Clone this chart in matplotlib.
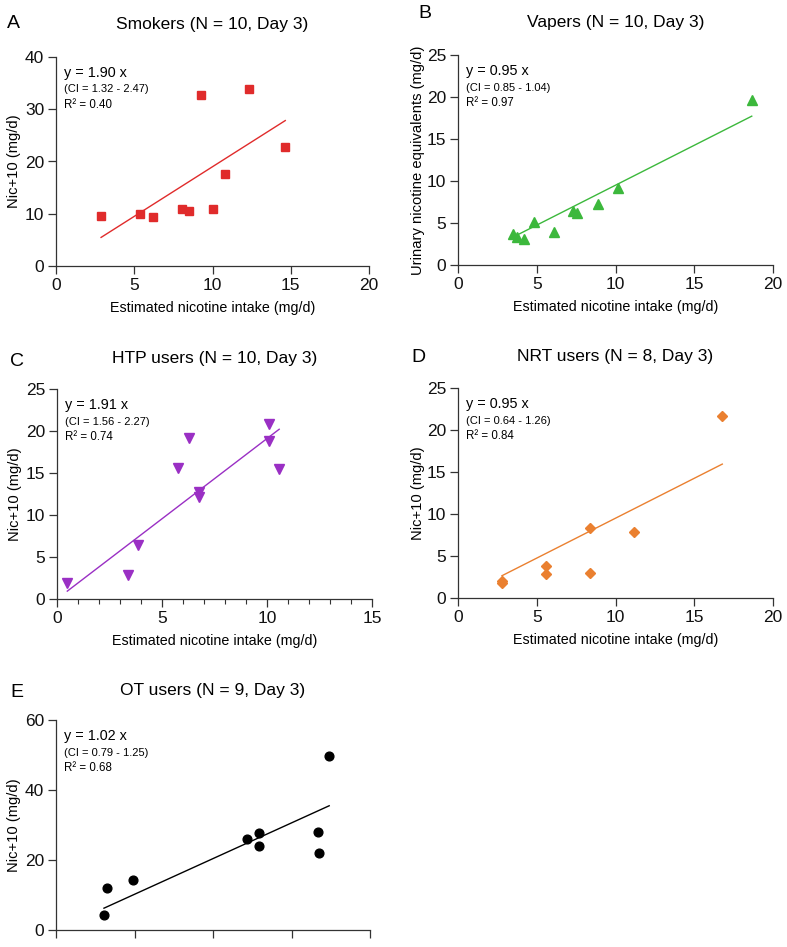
import numpy as np
import matplotlib
matplotlib.use("Agg")
import matplotlib.pyplot as plt

plt.rcParams['font.family'] = ['Liberation Sans', 'DejaVu Sans']

# panel A - smokers
smk_x = [2.88, 5.39, 6.18, 8.05, 8.5, 9.24, 10.03, 10.8, 12.31, 14.65]
smk_y = [9.5, 10.0, 9.45, 10.9, 10.5, 32.7, 11.0, 17.7, 33.8, 22.7]
# panel B - vapers
vap_x = [3.51, 3.75, 4.21, 4.80, 6.12, 7.28, 7.58, 8.91, 10.14, 18.65]
vap_y = [3.65, 3.29, 3.06, 5.08, 3.97, 6.47, 6.15, 7.30, 9.13, 19.64]
# panel C - HTP users
htp_x = [0.49, 3.37, 3.85, 5.78, 6.27, 6.76, 6.76, 10.1, 10.1, 10.58]
htp_y = [1.87, 2.86, 6.39, 15.56, 19.17, 12.7, 12.14, 20.87, 18.8, 15.48]
# panel D - NRT users
nrt_x = [2.79, 2.79, 5.57, 5.57, 8.38, 8.38, 11.17, 16.78]
nrt_y = [2.03, 1.79, 3.78, 2.83, 8.36, 2.99, 7.8, 21.66]
# panel E - OT users
ot_x = [6.11, 6.5, 9.81, 24.37, 25.9, 25.9, 33.33, 33.5, 34.8]
ot_y = [4.29, 12.0, 14.38, 25.9, 27.7, 24.0, 28.1, 22.1, 49.7]

slopes = [1.90, 0.95, 1.91, 0.95, 1.02]
ci_txt = ["(CI = 1.32 - 2.47)", "(CI = 0.85 - 1.04)", "(CI = 1.56 - 2.27)",
          "(CI = 0.64 - 1.26)", "(CI = 0.79 - 1.25)"]
r2 = ["0.40", "0.97", "0.74", "0.84", "0.68"]
titles = ["Smokers (N = 10, Day 3)", "Vapers (N = 10, Day 3)", "HTP users (N = 10, Day 3)",
          "NRT users (N = 8, Day 3)", "OT users (N = 9, Day 3)"]
letters = ["A", "B", "C", "D", "E"]
ylabels = ["Nic+10 (mg/d)", "Urinary nicotine equivalents (mg/d)", "Nic+10 (mg/d)",
           "Nic+10 (mg/d)", "Nic+10 (mg/d)"]
xlab = "Estimated nicotine intake (mg/d)"

W, H = 787, 947
fig = plt.figure(figsize=(W/100, H/100), dpi=100)

def px_axes(l, r, t, b):
    return fig.add_axes([l/W, 1-b/H, (r-l)/W, (b-t)/H])

# (left, right, top, bottom) in pixels
boxes = [(56, 369, 57, 266), (458, 773, 55, 265), (57, 372, 389, 599),
         (458, 773, 388, 598), (56, 370, 720, 930)]
xlims = [20, 20, 15, 20, 40]
ylims = [40, 25, 25, 25, 60]
xsteps = [5, 5, 5, 5, 10]
ysteps = [10, 5, 5, 5, 20]
data = [(smk_x, smk_y), (vap_x, vap_y), (htp_x, htp_y), (nrt_x, nrt_y), (ot_x, ot_y)]
markers = ['s', '^', 'v', 'D', 'o']
msizes = [6, 6.5, 6.5, 5, 6.3]
colors = ['#e02b2b', '#3cb83c', '#9a2fc4', '#ea8030', '#000000']
title_y = [25, 22, 358, 357, 690]
letter_xy = [(13, 24), (425, 14), (17, 362), (418, 358), (17, 692)]
ypads = [3, 1, 3, 1.5, 3]

for i in range(5):
    ax = px_axes(*boxes[i])
    x, y = data[i]
    ax.plot(x, y, linestyle='none', marker=markers[i], ms=msizes[i],
            color=colors[i], mec=colors[i], zorder=3)
    xl = np.array([min(x), max(x)])
    ax.plot(xl, slopes[i]*xl, color=colors[i], lw=1.0)
    ax.set_xlim(0, xlims[i])
    ax.set_ylim(0, ylims[i])
    ax.set_xticks(np.arange(0, xlims[i]+1, xsteps[i]))
    ax.set_yticks(np.arange(0, ylims[i]+1, ysteps[i]))
    if i == 2:
        ax.set_xticks(np.arange(0, 16, 1), minor=True)
        ax.tick_params(axis='x', which='minor', length=3.5, width=0.8, color='#333333')
    for s in ['top', 'right']:
        ax.spines[s].set_visible(False)
    for s in ['left', 'bottom']:
        ax.spines[s].set_linewidth(0.9)
        ax.spines[s].set_color('#333333')
    ax.tick_params(which='major', length=5.5, width=0.9, color='#333333',
                   labelsize=12.5, labelcolor='#111111', pad=3)
    if i == 4:
        ax.tick_params(axis='x', labelbottom=False)
    else:
        ax.set_xlabel(xlab, fontsize=10.3, labelpad=6)
    ax.set_ylabel(ylabels[i], fontsize=10.6, labelpad=ypads[i])
    ax.text(0.026, 0.925, "y = %.2f x" % slopes[i], transform=ax.transAxes,
            fontsize=10.4, va='center', ha='left')
    ax.text(0.026, 0.845, ci_txt[i], transform=ax.transAxes,
            fontsize=8, va='center', ha='left')
    ax.text(0.026, 0.772, "R\u00b2 = " + r2[i], transform=ax.transAxes,
            fontsize=8.3, va='center', ha='left')
    l, r, t, b = boxes[i]
    fig.text((l+r)/2/W, 1-title_y[i]/H, titles[i], fontsize=12.5,
             ha='center', va='center')
    fig.text(letter_xy[i][0]/W, 1-letter_xy[i][1]/H, letters[i], fontsize=14,
             ha='center', va='center')

plt.savefig("out.png", dpi=100)
